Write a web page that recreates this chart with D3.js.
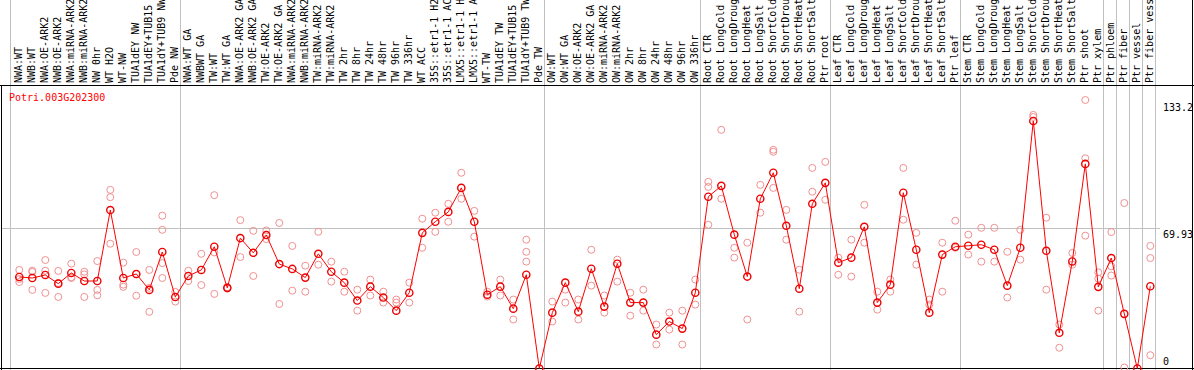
<!DOCTYPE html>
<html>
<head>
<meta charset="utf-8">
<script src="https://cdn.jsdelivr.net/npm/d3@7"></script>
<style>
  body { margin: 0; background: #fff; }
  svg { display: block; }
  text { font-family: "DejaVu Sans Mono", monospace; font-size: 10px; }
</style>
</head>
<body>
<div id="chart"></div>
<script>
// sample labels, left to right
const categories = [
  "NWA:WT", "NWB:WT", "NWA:OE-ARK2", "NWB:OE-ARK2", "NWA:miRNA-ARK2", "NWB:miRNA-ARK2",
  "NW 0hr", "WT H2O", "WT-NW", "TUA1dEY NW", "TUA1dEY+TUB15 NW", "TUA1dY+TUB9 NW", "Pde NW",
  "NWA:WT GA", "NWBWT GA", "TW:WT", "TW:WT GA", "NWA:OE-ARK2 GA", "NWB:OE-ARK2 GA",
  "TW:OE-ARK2", "TW:OE-ARK2 GA", "NWA:miRNA-ARK2", "NWB:miRNA-ARK2", "TW:miRNA-ARK2", "TW:miRNA-ARK2",
  "TW 2hr", "TW 8hr", "TW 24hr", "TW 48hr", "TW 96hr", "TW 336hr", "WT ACC",
  "35S::etr1-1 H2O", "35S::etr1-1 ACC", "LMX5::etr1-1 H2O", "LMX5::etr1-1 ACC",
  "WT-TW", "TUA1dEY TW", "TUA1dEY+TUB15 TW", "TUA1dY+TUB9 TW", "Pde TW",
  "OW:WT", "OW:WT GA", "OW:OE-ARK2", "OW:OE-ARK2 GA", "OW:miRNA-ARK2", "OW:miRNA-ARK2",
  "OW 2hr", "OW 8hr", "OW 24hr", "OW 48hr", "OW 96hr", "OW 336hr",
  "Root CTR", "Root LongCold", "Root LongDrought", "Root LongHeat", "Root LongSalt",
  "Root ShortCold", "Root ShortDrought", "Root ShortHeat", "Root ShortSalt", "Ptr root",
  "Leaf CTR", "Leaf LongCold", "Leaf LongDrought", "Leaf LongHeat", "Leaf LongSalt",
  "Leaf ShortCold", "Leaf ShortDrought", "Leaf ShortHeat", "Leaf ShortSalt", "Ptr leaf",
  "Stem CTR", "Stem LongCold", "Stem LongDrought", "Stem LongHeat", "Stem LongSalt",
  "Stem ShortCold", "Stem ShortDrought", "Stem ShortHeat", "Stem ShortSalt", "Ptr shoot",
  "Ptr xylem", "Ptr phloem", "Ptr fiber", "Ptr vessel", "Ptr fiber vessel"
];

// mean expression per sample
const means = [
  45.4, 44.9, 46.4, 42.1, 47.4, 43.4, 43.4, 78.6, 44.9, 46.9, 39.0, 57.8, 35.5,
  45.9, 48.9, 60.4, 40.0, 64.7, 57.4, 66.2, 51.8, 49.4, 45.1, 56.9, 48.0,
  42.6, 33.7, 40.6, 35.2, 28.7, 37.6, 67.3, 72.8, 77.7, 89.6, 72.8,
  36.6, 40.6, 29.7, 46.5, 0,
  27.7, 42.6, 28.2, 49.5, 30.7, 52.0, 32.7, 32.7, 16.8, 23.3, 19.8, 37.6,
  85.2, 90.6, 66.4, 45.6, 84.2, 97.1, 70.8, 39.6, 81.7, 92.1,
  52.5, 55.0, 70.3, 32.7, 41.6, 87.2, 58.9, 27.7, 56.5, 60.4,
  60.9, 61.4, 58.9, 41.1, 59.9, 122.8, 58.4, 17.7, 53.1, 101.5,
  40.5, 54.8, 27.1, 0, 40.8
];

// individual replicates per sample
const replicates = [
  [48.9, 44.4, 42.9], [48.5, 47.9, 39.0], [53.8, 48.5, 37.5], [48.4, 42.4, 35.5],
  [52.0, 45.3, 44.9], [48.0, 46.7, 35.5], [53.3, 39.0, 36.3], [88.6, 85.0, 61.9],
  [52.5, 41.6, 40.5], [57.8, 46.8, 36.1], [48.9, 40.0, 28.1], [75.8, 68.8, 52.3, 44.9],
  [38.0, 33.2], [48.5, 43.4], [56.9, 41.4], [86.0, 57.6, 37.0], [40.3, 40.0, 39.7],
  [73.6, 55.3], [68.3, 45.9], [68.5, 64.2], [72.2, 32.0], [60.8, 38.6],
  [51.0, 38.1], [67.8, 51.5], [53.0, 43.1], [48.0, 38.1], [39.1, 28.7],
  [44.1, 36.2], [38.1, 32.7], [32.7, 34.2], [42.6, 32.7], [74.3, 59.9],
  [77.3, 67.8], [81.7, 72.8], [97.1, 84.2], [78.2, 65.4], [38.1, 35.7],
  [44.1, 36.2], [34.2, 24.3], [63.9, 57.9, 53.0], [0],
  [33.2, 23.3], [39.1, 32.7], [34.2, 24.3], [58.9, 41.1], [36.2, 27.7],
  [54.0, 43.1], [37.6, 26.2], [39.1, 28.7], [21.8, 11.9], [27.7, 19.3],
  [28.7, 11.9], [44.1, 31.7],
  [92.6, 90.1, 71.3], [118.4, 84.2], [59.9, 55.0], [62.4, 24.3], [91.1, 77.3],
  [108.5, 107.5, 89.6], [78.7, 63.9], [49.0, 28.2], [99.5, 87.7], [102.5, 83.7],
  [55.0, 46.5], [63.9, 45.6], [81.2, 62.4], [38.1, 29.2], [38.1, 44.1],
  [99.5, 73.8], [67.3, 51.5], [34.2, 31.7], [62.4, 38.1], [73.3, 59.9],
  [66.4, 56.5], [69.8, 53.0], [69.8, 53.0], [57.9, 35.2], [68.8, 54.0],
  [125.8, 124.8], [74.8, 39.1], [21.8, 10.3], [57.3, 51.5], [133.2, 104.3, 65.9],
  [47.7, 44.6, 28.7], [67.7, 50.7, 46.1], [82.1, 0.5], [], [60.8, 54.8, 6.6]
];

const geneName = "Potri.003G202300";
const yTicks = [133.2, 69.93, 0];
const gridValues = [69.93];
// last sample of each block, a grey rule follows it
const groupEnds = [12, 40, 52, 62, 72, 83, 84, 85, 86, 87];

const width = 1194, height = 370;
const plotTop = 85, plotBottom = 368.5, plotRight = 1160;

const svg = d3.select("#chart").append("svg")
  .attr("width", width)
  .attr("height", height);

const idx = d3.range(categories.length);
const x = d3.scalePoint().domain(idx).range([19.3, 19.3 + 13 * (categories.length - 1)]);
const y = d3.scaleLinear().domain([0, 133.2]).range([plotBottom, 100]);

// grey separators
const sepX = [x(0) - 9.3].concat(groupEnds.map(i => x(i) + 4.7));
svg.append("g").selectAll("line")
  .data(sepX)
  .join("line")
  .attr("x1", d => Math.round(d) + 0.5).attr("x2", d => Math.round(d) + 0.5)
  .attr("y1", 0).attr("y2", height)
  .attr("stroke", "#c0c0c0")
  .attr("shape-rendering", "crispEdges");

svg.append("g").selectAll("line")
  .data(gridValues)
  .join("line")
  .attr("x1", 1).attr("x2", plotRight)
  .attr("y1", d => Math.round(y(d)) + 0.5).attr("y2", d => Math.round(y(d)) + 0.5)
  .attr("stroke", "#c0c0c0")
  .attr("shape-rendering", "crispEdges");

// frame
const frame = svg.append("g").attr("stroke", "#000").attr("shape-rendering", "crispEdges");
frame.append("line").attr("x1", 0).attr("x2", width).attr("y1", plotTop + 0.5).attr("y2", plotTop + 0.5);
frame.append("line").attr("x1", 0).attr("x2", width).attr("y1", plotBottom).attr("y2", plotBottom);
frame.append("line").attr("x1", 1.5).attr("x2", 1.5).attr("y1", plotTop).attr("y2", height);
frame.append("line").attr("x1", width - 1.5).attr("x2", width - 1.5).attr("y1", 0).attr("y2", height);

// rotated sample labels
svg.append("g").selectAll("text")
  .data(idx)
  .join("text")
  .attr("transform", i => `translate(${x(i) + 3},83) rotate(-90)`)
  .attr("fill", "#000")
  .text(i => categories[i]);

// right value labels
svg.append("g").selectAll("text")
  .data(yTicks)
  .join("text")
  .attr("x", 1163)
  .attr("y", d => d === 0 ? 365 : y(d) + 10.5)
  .attr("fill", "#000")
  .text(d => d);

svg.append("text")
  .attr("x", 9)
  .attr("y", 100.5)
  .attr("fill", "#ff0000")
  .text(geneName);

// replicates
const repG = svg.append("g").attr("fill", "none").attr("stroke", "#f09090").attr("stroke-width", 1);
replicates.forEach((reps, i) => {
  repG.selectAll(null)
    .data(reps)
    .join("circle")
    .attr("cx", x(i))
    .attr("cy", v => y(v))
    .attr("r", 3.5);
});

// mean line
svg.append("path")
  .datum(means)
  .attr("fill", "none")
  .attr("stroke", "#ff0000")
  .attr("stroke-width", 1)
  .attr("d", d3.line().x((d, i) => x(i)).y(d => y(d)));

svg.append("g")
  .attr("fill", "none").attr("stroke", "#ee0000").attr("stroke-width", 1.4)
  .selectAll("circle")
  .data(means)
  .join("circle")
  .attr("cx", (d, i) => x(i))
  .attr("cy", d => y(d))
  .attr("r", 3.6);
</script>
</body>
</html>
